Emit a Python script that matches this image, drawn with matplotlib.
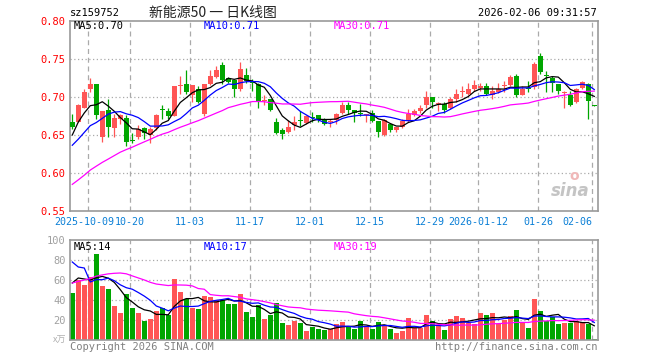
import matplotlib
matplotlib.use('Agg')
import matplotlib.pyplot as plt
import matplotlib.transforms as mtransforms
import numpy as np

# daily candles of sz159752, 2025-09-26 .. 2026-02-06 (88 sessions)
opens = [0.667, 0.667, 0.686, 0.711, 0.717, 0.648, 0.683, 0.659, 0.671, 0.672,
         0.643, 0.648, 0.659, 0.650, 0.659, 0.684, 0.682, 0.675, 0.714, 0.717,
         0.703, 0.711, 0.678, 0.717, 0.726, 0.742, 0.7246, 0.722, 0.710, 0.729,
         0.7186, 0.717, 0.6945, 0.698, 0.667, 0.656, 0.654, 0.663, 0.669, 0.666,
         0.673, 0.676, 0.671, 0.667, 0.670, 0.679, 0.690, 0.683, 0.678, 0.676,
         0.679, 0.669, 0.650, 0.665, 0.656, 0.660, 0.669, 0.676, 0.681, 0.689,
         0.700, 0.6904, 0.691, 0.686, 0.697, 0.706, 0.704, 0.711, 0.7114, 0.714,
         0.703, 0.706, 0.714, 0.7158, 0.728, 0.703, 0.712, 0.713, 0.7535, 0.7285,
         0.7246, 0.717, 0.7055, 0.7026, 0.693, 0.7114, 0.7171, 0.689]
highs = [0.678, 0.691, 0.711, 0.725, 0.717, 0.681, 0.697, 0.678, 0.678, 0.676,
         0.653, 0.663, 0.661, 0.661, 0.678, 0.690, 0.686, 0.715, 0.728, 0.735,
         0.716, 0.714, 0.717, 0.736, 0.741, 0.746, 0.726, 0.722, 0.746, 0.738,
         0.724, 0.719, 0.702, 0.698, 0.673, 0.659, 0.670, 0.675, 0.682, 0.676,
         0.680, 0.676, 0.673, 0.671, 0.679, 0.693, 0.693, 0.683, 0.691, 0.678,
         0.683, 0.669, 0.671, 0.666, 0.661, 0.671, 0.684, 0.684, 0.689, 0.708,
         0.700, 0.694, 0.694, 0.700, 0.711, 0.715, 0.719, 0.722, 0.719, 0.719,
         0.715, 0.719, 0.7215, 0.729, 0.730, 0.715, 0.7215, 0.7456, 0.758, 0.7346,
         0.727, 0.717, 0.708, 0.708, 0.7114, 0.7215, 0.7184, 0.6895]
lows = [0.658, 0.667, 0.686, 0.706, 0.671, 0.641, 0.647, 0.647, 0.665, 0.636,
        0.640, 0.645, 0.645, 0.640, 0.657, 0.671, 0.671, 0.675, 0.704, 0.704,
        0.693, 0.692, 0.675, 0.716, 0.725, 0.717, 0.718, 0.700, 0.708, 0.719,
        0.708, 0.686, 0.689, 0.681, 0.651, 0.645, 0.653, 0.657, 0.662, 0.664,
        0.667, 0.667, 0.663, 0.660, 0.664, 0.678, 0.678, 0.667, 0.675, 0.667,
        0.667, 0.648, 0.649, 0.654, 0.654, 0.659, 0.667, 0.675, 0.679, 0.686,
        0.686, 0.682, 0.679, 0.684, 0.693, 0.700, 0.703, 0.708, 0.708, 0.703,
        0.698, 0.705, 0.706, 0.714, 0.700, 0.702, 0.707, 0.711, 0.730, 0.706,
        0.707, 0.704, 0.686, 0.6886, 0.692, 0.7105, 0.671, 0.6882]
closes = [0.661, 0.689, 0.706, 0.717, 0.676, 0.681, 0.660, 0.672, 0.676, 0.641,
          0.642, 0.658, 0.653, 0.658, 0.676, 0.683, 0.675, 0.715, 0.715, 0.707,
          0.716, 0.694, 0.717, 0.728, 0.735, 0.723, 0.7202, 0.710, 0.737, 0.721,
          0.718, 0.693, 0.6952, 0.683, 0.653, 0.651, 0.661, 0.667, 0.6685, 0.675,
          0.6724, 0.671, 0.665, 0.669, 0.678, 0.690, 0.683, 0.679, 0.6775, 0.6765,
          0.669, 0.654, 0.670, 0.656, 0.660, 0.668, 0.678, 0.682, 0.686, 0.700,
          0.693, 0.6908, 0.683, 0.697, 0.704, 0.708, 0.711, 0.716, 0.714, 0.704,
          0.708, 0.711, 0.715, 0.726, 0.703, 0.711, 0.711, 0.743, 0.733, 0.728,
          0.719, 0.708, 0.7061, 0.6895, 0.7105, 0.7202, 0.6952, 0.6886]
# volume, 万手
volumes = [47, 60, 55, 63, 86, 54, 51, 34, 27, 46,
           32, 27, 19, 21, 29, 32, 25, 61, 48, 41,
           32, 31, 44, 43, 40, 40, 36, 36, 46, 28,
           23, 35, 21, 25, 37, 17, 15, 19, 17, 9,
           13, 11, 10, 11, 16, 18, 13, 11, 19, 14,
           11, 18, 14, 11, 7, 9, 22, 12, 12, 25,
           19, 14, 10, 21, 24, 22, 17, 16, 27, 25,
           27, 16, 20, 24, 30, 17, 12, 41, 29, 19,
           23, 16, 17, 17, 19, 18, 16, 1]

# 29 sessions before the window, only used to start the moving averages
prev_closes = [0.512, 0.520, 0.515, 0.523, 0.531, 0.528, 0.536, 0.541, 0.538, 0.547,
               0.552, 0.549, 0.558, 0.567, 0.588, 0.603, 0.612, 0.618, 0.622, 0.626,
               0.609, 0.617, 0.628, 0.635, 0.626, 0.604, 0.646, 0.669, 0.670]
prev_volumes = [12, 15, 14, 18, 16, 20, 17, 18, 70, 95,
                88, 80, 92, 80, 55, 48, 42, 50, 46, 54,
                110, 65, 203, 62, 55, 35, 60, 68, 75]

date_labels = ['2025-10-09', '10-20', '11-03', '11-17', '12-01', '12-15',
               '12-29', '2026-01-12', '01-26', '02-06']
date_index = [3, 10, 20, 30, 40, 50, 60, 68, 78, 87]

price_ticks = [0.55, 0.60, 0.65, 0.70, 0.75, 0.80]
vol_ticks = [20, 40, 60, 80, 100]

UP = '#ff5555'
DOWN = '#00a600'
GRID = '#aaaaaa'
MONO = 'DejaVu Sans Mono'
W, H = 660, 360


def moving_average(hist, vals, n):
    full = np.array(hist + vals, dtype=float)
    ma = np.convolve(full, np.ones(n) / n, mode='valid')
    return ma[-len(vals):]


def px(x, y):
    return x / W, 1 - y / H


def style_axes(ax):
    for s in ax.spines.values():
        s.set_color('#999999')
        s.set_linewidth(1.2)
    ax.tick_params(length=0)
    ax.set_xlim(-0.38, 87.62)
    for i in date_index:
        ax.axvline(i - 0.35, color=GRID, lw=0.9, ls=(0, (4, 3)), zorder=0)


fig = plt.figure(figsize=(6.6, 3.6), dpi=100)
fig.patch.set_facecolor('white')

x = np.arange(len(closes))
colors = [UP if c >= o else DOWN for o, c in zip(opens, closes)]

# ---- price panel
ax = fig.add_axes([70 / W, 1 - 211 / H, 528 / W, 190 / H])
style_axes(ax)
ax.set_ylim(0.55, 0.80)
for p in price_ticks[1:-1]:
    ax.axhline(p, color=GRID, lw=0.9, ls=(0, (1, 2)), zorder=0)

ax.vlines(x, lows, highs, colors=colors, lw=0.9, zorder=2)
body = [max(abs(c - o), 0.0012) for o, c in zip(opens, closes)]
bottom = [min(o, c) for o, c in zip(opens, closes)]
ax.bar(x, body, bottom=bottom, width=0.75, color=colors, zorder=3)

ma5 = moving_average(prev_closes, closes, 5)
ma10 = moving_average(prev_closes, closes, 10)
ma30 = moving_average(prev_closes, closes, 30)
ax.plot(x, ma5, color='black', lw=0.9, zorder=4)
ax.plot(x, ma10, color='#0000ff', lw=0.9, zorder=4)
ax.plot(x, ma30, color='#ff00ff', lw=0.9, zorder=4)

ax.set_yticks(price_ticks)
ax.set_yticklabels([f'{p:.2f}' for p in price_ticks], color='red',
                   family=MONO, fontsize=7.5)
ax.set_xticks([i - 0.35 for i in date_index])
ax.set_xticklabels(date_labels, color='#0a7fd6', family=MONO, fontsize=7.2)
ax.tick_params(axis='y', pad=3)
ax.tick_params(axis='x', pad=4)
xlabels = ax.get_xticklabels()
xlabels[-1].set_ha('right')
# first label sits a little to the left, as in the original
xlabels[0].set_transform(xlabels[0].get_transform() +
                         mtransforms.ScaledTranslation(-3 / 72, 0, fig.dpi_scale_trans))

# sina watermark
ax.text(0.985, 0.06, 'sina', transform=ax.transAxes, ha='right', va='bottom',
        fontsize=12, fontweight='bold', style='italic', color='#c4c4c4', zorder=1)
ax.text(0.955, 0.15, 'o', transform=ax.transAxes, ha='center', va='bottom',
        fontsize=10, fontweight='bold', color='#f0b8b8', zorder=1)

# ---- volume panel
ax2 = fig.add_axes([70 / W, 1 - 340 / H, 528 / W, 100 / H])
style_axes(ax2)
ax2.set_ylim(0, 100)
for v in vol_ticks[:-1]:
    ax2.axhline(v, color=GRID, lw=0.9, ls=(0, (1, 2)), zorder=0)
ax2.bar(x, volumes, width=0.85, color=colors, zorder=2)

vma5 = moving_average(prev_volumes, volumes, 5)
vma10 = moving_average(prev_volumes, volumes, 10)
vma30 = moving_average(prev_volumes, volumes, 30)
ax2.plot(x, vma5, color='black', lw=0.9, zorder=4)
ax2.plot(x, vma10, color='#0000ff', lw=0.9, zorder=4)
ax2.plot(x, vma30, color='#ff00ff', lw=0.9, zorder=4)

ax2.set_xticks([])
ax2.set_yticks(vol_ticks)
ax2.set_yticklabels([str(v) for v in vol_ticks], color='#a0a0a0',
                    family=MONO, fontsize=7.5)
ax2.tick_params(axis='y', pad=3)

# ---- header and legends
fig.text(*px(70, 13), 'sz159752', family=MONO, fontsize=7.5, va='center')
fig.text(*px(213, 13), '新能源50 一 日K线图', family=['Noto Sans CJK SC', 'DejaVu Sans'],
         fontsize=10, ha='center', va='center', color='#222222')
fig.text(*px(597, 13), '2026-02-06 09:31:57', family=MONO, fontsize=7.5,
         ha='right', va='center')

fig.text(*px(74, 26), f'MA5:{ma5[-1]:.2f}', family=MONO, fontsize=7.5, va='center')
fig.text(*px(204, 26), f'MA10:{ma10[-1]:.2f}', family=MONO, fontsize=7.5,
         va='center', color='#0000ff')
fig.text(*px(334, 26), f'MA30:{ma30[-1]:.2f}', family=MONO, fontsize=7.5,
         va='center', color='#ff00ff')

fig.text(*px(74, 247), f'MA5:{int(vma5[-1])}', family=MONO, fontsize=7.5, va='center')
fig.text(*px(204, 247), f'MA10:{int(vma10[-1])}', family=MONO, fontsize=7.5,
         va='center', color='#0000ff')
fig.text(*px(334, 247), f'MA30:{int(vma30[-1])}', family=MONO, fontsize=7.5,
         va='center', color='#ff00ff')

fig.text(*px(66, 340), 'x万', family=['Noto Sans CJK SC', 'DejaVu Sans'], fontsize=6.5,
         ha='right', va='center', color='#b0b0b0')
fig.text(*px(70, 347), 'Copyright 2026 SINA.COM', family=MONO, fontsize=7.5,
         va='center', color='#808080')
fig.text(*px(597, 347), 'http://finance.sina.com.cn', family=MONO, fontsize=7.5,
         ha='right', va='center', color='#808080')

fig.savefig('out.png', dpi=100)
